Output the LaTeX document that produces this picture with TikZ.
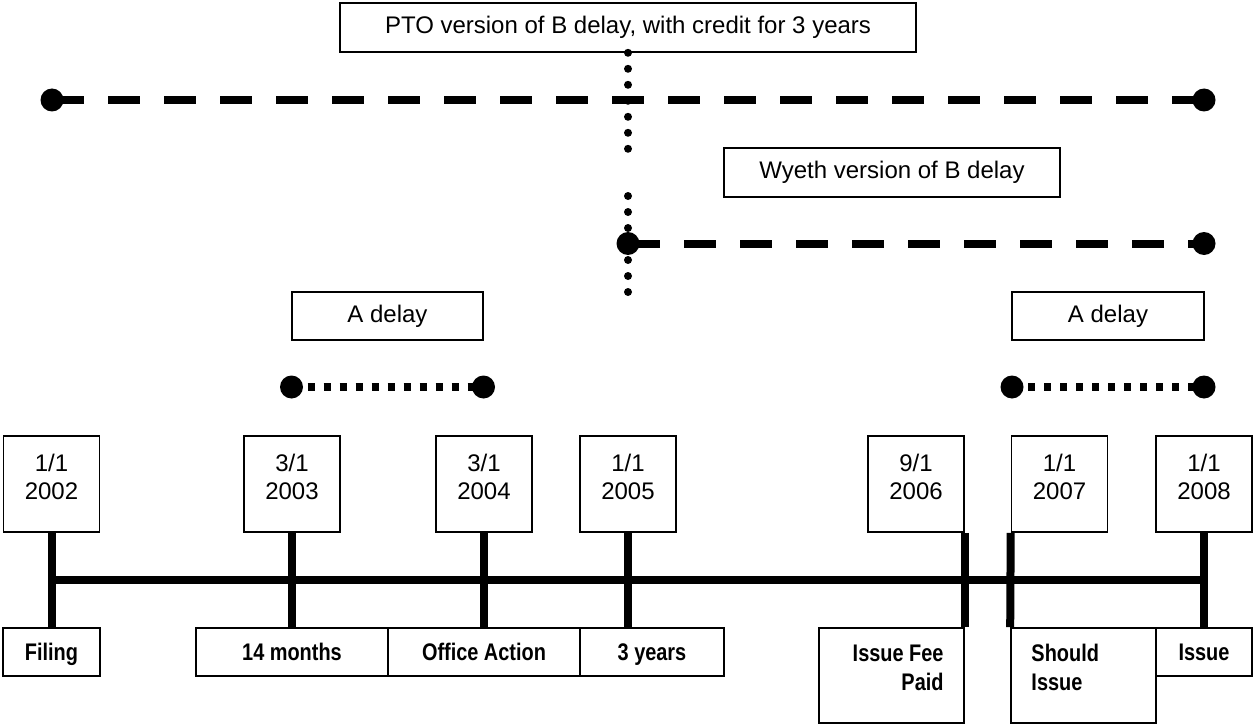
\documentclass[tikz,border=0pt]{standalone}
\usepackage{fontspec}
\setmainfont{Liberation Sans}
\newfontfamily\narrowsf[FakeStretch=0.83]{Liberation Sans}
\pgfdeclarelayer{bg}
\pgfsetlayers{bg,main}
\begin{document}
\begin{tikzpicture}[x=0.75pt,y=-0.75pt,
  box/.style={draw, line width=1.2pt, inner sep=0pt, font=\fontsize{18}{21}\selectfont},
  datebox/.style={draw, line width=1.2pt, inner sep=0pt, minimum width=72pt, minimum height=72pt},
  datetext/.style={align=center, inner sep=0pt, font=\fontsize{18}{21}\selectfont, yshift=5.25pt},
  lblbox/.style={draw, line width=1.2pt, inner sep=0pt, minimum height=36pt, text height=12.9pt, text depth=0pt, font=\narrowsf\bfseries\fontsize{18}{21.75}\selectfont},
  lbltext/.style={inner sep=0pt, font=\narrowsf\bfseries\fontsize{18}{21.75}\selectfont},
  tick/.style={line width=6pt},
  endpt/.style={circle, fill, inner sep=0pt, minimum size=17.25pt},
  bdash/.style={line width=6pt, dash pattern=on 24pt off 18pt},
  sqdot/.style={line width=6pt, dash pattern=on 5.5pt off 6.5pt},
  rdot/.style={line width=6pt, line cap=round, dash pattern=on 0pt off 12pt},
]
\useasboundingbox (0,0) rectangle (1254,724);

% top boxes
\node[box, minimum width=432pt, minimum height=36.75pt] (pto) at (628,27.5) {PTO version of B delay, with credit for 3 years};
\node[box, minimum width=252pt, minimum height=36.75pt] (wy) at (892,172.5) {Wyeth version of B delay};
\node[box, minimum width=143.25pt, minimum height=36pt] (ad1) at (387.5,316) {A delay};
\node[box, minimum width=144pt, minimum height=36pt] (ad2) at (1108,316) {A delay};

% end points
\node[endpt] (p1) at (52,100) {};
\node[endpt] (p2) at (1204,100) {};
\node[endpt] (w1) at (628,243.5) {};
\node[endpt] (w2) at (1204,243.5) {};
\node[endpt] (a1) at (291.5,387) {};
\node[endpt] (a2) at (483.5,387) {};
\node[endpt] (a3) at (1012,387) {};
\node[endpt] (a4) at (1204,387) {};

\coordinate (v1) at (628,151);
\coordinate (v2) at (628,196);
\coordinate (v3) at (628,293);

\begin{pgfonlayer}{bg}
\draw[rdot] (pto.south) -- (v1);
\draw[rdot] (v2) -- (v3);
\draw[bdash] (p1.center) -- (p2.center);
\draw[bdash] (w1.center) -- (w2.center);
\draw[sqdot] (a1.center) -- (a2.center);
\draw[sqdot] (a3.center) -- (a4.center);
\end{pgfonlayer}

% date boxes
\node[datebox, label={[datetext]center:{1/1\\2002}}] (d1) at (51.5,484) {};
\node[datebox, label={[datetext]center:{3/1\\2003}}] (d2) at (292,484) {};
\node[datebox, label={[datetext]center:{3/1\\2004}}] (d3) at (484,484) {};
\node[datebox, label={[datetext]center:{1/1\\2005}}] (d4) at (628,484) {};
\node[datebox, label={[datetext]center:{9/1\\2006}}] (d5) at (916,484) {};
\node[datebox, label={[datetext]center:{1/1\\2007}}] (d6) at (1059.5,484) {};
\node[datebox, label={[datetext]center:{1/1\\2008}}] (d7) at (1204,484) {};

% bottom labels
\node[lblbox, minimum width=72.75pt] (l1) at (51.5,652) {Filing};
\node[lblbox, minimum width=144pt] (l2) at (292,652) {14 months};
\node[lblbox, minimum width=144pt] (l3) at (484,652) {Office Action};
\node[lblbox, minimum width=108pt] (l4) at (652,652) {3 years};
\node[lblbox, minimum width=108.75pt, minimum height=71.25pt,
  label={[lbltext, align=right, anchor=east, xshift=-15.75pt, yshift=6pt]east:{Issue Fee\\Paid}}] (l5) at (891.5,675.5) {};
\node[lblbox, minimum width=108.75pt, minimum height=71.25pt,
  label={[lbltext, align=left, anchor=west, xshift=15.75pt, yshift=6pt]west:{Should\\Issue}}] (l6) at (1083.5,675.5) {};
\node[lblbox, minimum width=72pt] (l7) at (1204,652) {Issue};

% ticks
\draw[tick] (d1.south) -- (l1.north);
\draw[tick] (d2.south) -- (l2.north);
\draw[tick] (d3.south) -- (l3.north);
\draw[tick] (d4.south) -- (d4.south |- l4.north);
\draw[tick] (d5.south east) -- (l5.north east);
\draw[tick] (d6.south west) -- (l6.north west);
\draw[tick] (d7.south) -- (l7.north);

% axis
\coordinate (ax0) at (51.5,580);
\coordinate (ax1) at (1204,580);
\draw[tick] (ax0) -- (ax1);
\end{tikzpicture}
\end{document}
